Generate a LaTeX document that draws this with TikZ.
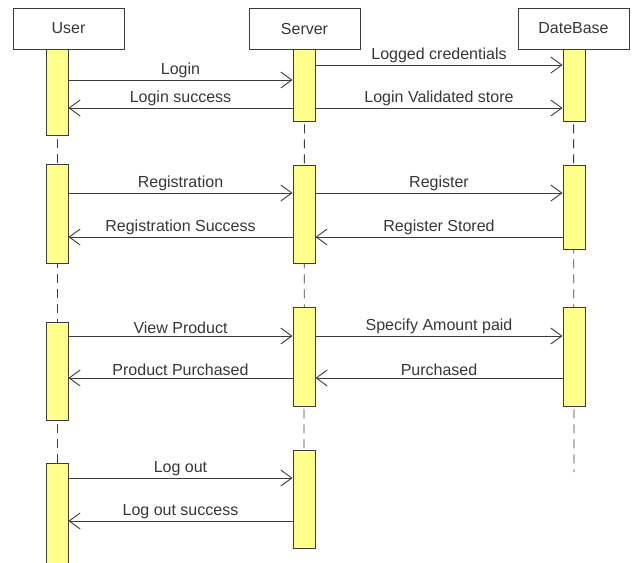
\documentclass[tikz,border=0pt]{standalone}
\usepackage{fontspec}
\setmainfont{Liberation Sans}
\usetikzlibrary{arrows.meta}
\definecolor{actfill}{RGB}{255,255,140}
\definecolor{ink}{RGB}{60,60,60}
\definecolor{txt}{RGB}{55,55,55}
\begin{document}
\begin{tikzpicture}[x=1pt,y=-1pt,
  objbox/.style={draw=ink,line width=0.9pt,fill=white,minimum width=111pt,minimum height=41pt,inner sep=0pt,font=\fontsize{16}{18}\selectfont,text=txt},
  actbox/.style={draw=ink,line width=0.9pt,fill=actfill,minimum width=22pt,inner sep=0pt},
  life/.style={draw=ink,line width=0.8pt,dash pattern=on 9pt off 6pt},
  msg/.style={draw=ink,line width=0.9pt,-{Straight Barb[length=11pt,width=16pt,line width=0.9pt]}},
  lbl/.style={font=\fontsize{16}{18}\selectfont,text=txt,inner sep=1.5pt,above}
]
\useasboundingbox (0,0) rectangle (636,562);
% lifelines
\coordinate (ue) at (57,562);
\coordinate (se) at (304,450);
\coordinate (de) at (574,472);
\node[objbox] (user) at (68.5,28.5) {User};
\node[objbox] (server) at (304.5,28.5) {Server};
\node[objbox] (db) at (573.5,28.5) {DateBase};
\draw[life] (57,49) -- (ue);
\draw[life] (server.south) -- (se);
\draw[life] (db.south) -- (de);
% activations
\newcommand{\act}[4]{\node[actbox,minimum height={#4-#3}] (#1) at (#2,{(#3+#4)/2}) {};}
\act{u1}{57}{49}{135}
\act{u2}{57}{164}{263}
\act{u3}{57}{322}{420}
\act{u4}{57}{463}{566}
\act{s1}{304}{49}{121}
\act{s2}{304}{165}{263}
\act{s3}{304}{307}{406}
\act{s4}{304}{450}{548}
\act{d1}{574}{49}{121}
\act{d2}{574}{165}{249}
\act{d3}{574}{307}{406}
% messages
\draw[msg] (u1.east|-0,80) -- node[lbl]{Login} (s1.west|-0,80);
\draw[msg] (s1.west|-0,108) -- node[lbl]{Login success} (u1.east|-0,108);
\draw[msg] (s1.east|-0,65) -- node[lbl]{Logged credentials} (d1.west|-0,65);
\draw[msg] (s1.east|-0,108) -- node[lbl]{Login Validated store} (d1.west|-0,108);
\draw[msg] (u2.east|-0,193) -- node[lbl]{Registration} (s2.west|-0,193);
\draw[msg] (s2.west|-0,237) -- node[lbl]{Registration Success} (u2.east|-0,237);
\draw[msg] (s2.east|-0,193) -- node[lbl]{Register} (d2.west|-0,193);
\draw[msg] (d2.west|-0,237) -- node[lbl]{Register Stored} (s2.east|-0,237);
\draw[msg] (u3.east|-0,336) -- node[lbl]{View Product} (s3.west|-0,336);
\draw[msg] (s3.west|-0,378) -- node[lbl]{Product Purchased} (u3.east|-0,378);
\draw[msg] (s3.east|-0,336) -- node[lbl]{Specify Amount paid} (d3.west|-0,336);
\draw[msg] (d3.west|-0,378) -- node[lbl]{Purchased} (s3.east|-0,378);
\draw[msg] (u4.east|-0,478) -- node[lbl]{Log out} (s4.west|-0,478);
\draw[msg] (s4.west|-0,521) -- node[lbl]{Log out success} (u4.east|-0,521);
\end{tikzpicture}
\end{document}
